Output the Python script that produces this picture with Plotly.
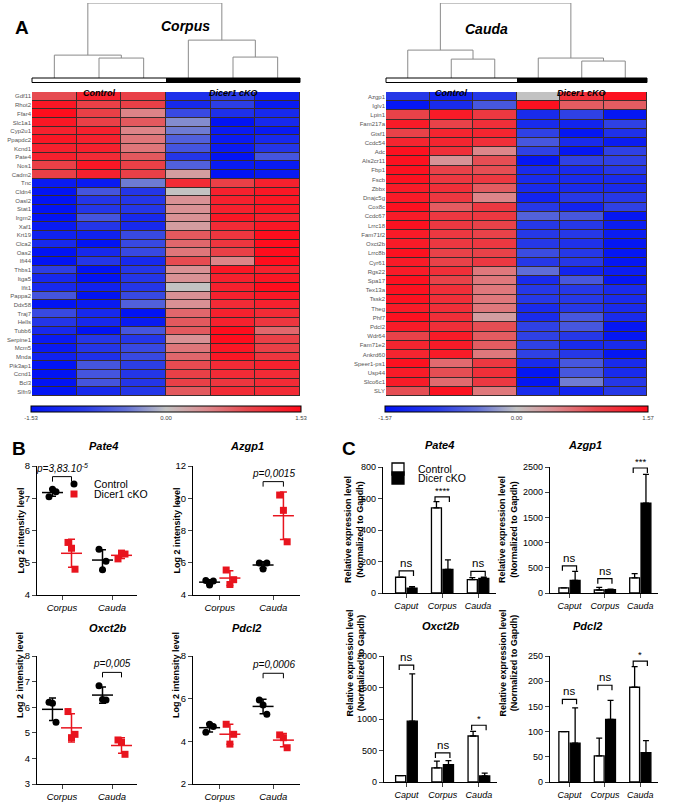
import numpy as np
import plotly.graph_objects as go

W, H = 676, 809
FONT = "Arial, Liberation Sans, sans-serif"
RED = "#e8141e"

# ---------------- Panel A data ----------------
sample_cols = [0, 1, 2, 3, 4, 5]
group_codes = [0, 0, 0, 1, 1, 1]
group_names = ["Control", "Dicer1 cKO"]

corpus_genes = ["Gdf11", "Rhot2", "Ffar4", "Slc1a1", "Cyp2u1", "Ppapdc2", "Kcnd1", "Pate4", "Nos1", "Cadm2",
                "Tnc", "Cldn4", "Oasl2", "Stat1", "Irgm2", "Xaf1", "Krt19", "Clca2", "Oas2", "Ifi44",
                "Thbs1", "Itga5", "Ifit1", "Pappa2", "Ddx58", "Traj7", "Hells", "Tubb6", "Serpine1", "Mcm5",
                "Mnda", "Pik3ap1", "Ccnd1", "Bcl3", "Slfn9"]
corpus_values = [
    [0.9, 1.3, 1.0, -1.1, -0.9, -1.3],
    [1.4, 1.0, 1.0, -1.2, -0.9, -1.4],
    [1.5, 1.0, 0.5, -0.8, -1.1, -1.2],
    [1.4, 1.0, 0.8, -0.3, -1.5, -1.2],
    [1.3, 1.3, 0.5, -0.4, -1.4, -1.4],
    [1.4, 1.3, 0.6, -0.6, -1.4, -1.2],
    [1.3, 1.3, 0.6, -0.7, -1.4, -1.0],
    [1.3, 1.2, 0.8, -1.0, -1.5, -0.7],
    [1.0, 1.4, 1.0, -0.6, -1.4, -1.4],
    [1.0, 1.3, 1.0, 0.3, -1.5, -1.4],
    [-1.4, -1.4, -0.4, 1.2, 1.0, 1.3],
    [-1.5, -0.7, -1.0, 0.0, 1.3, 1.4],
    [-1.5, -1.0, -1.0, 0.4, 1.3, 1.4],
    [-1.5, -1.0, -1.0, 0.4, 1.3, 1.4],
    [-1.5, -0.7, -1.2, 0.4, 1.4, 1.3],
    [-1.4, -1.0, -1.2, 0.3, 1.2, 1.4],
    [-1.3, -1.3, -0.8, 0.8, 1.1, 1.5],
    [-1.2, -1.5, -0.8, 0.7, 1.1, 1.5],
    [-1.5, -1.2, -0.8, 0.6, 1.0, 1.5],
    [-1.5, -1.0, -1.2, 0.9, 0.5, 1.5],
    [-0.9, -1.5, -1.0, 0.4, 1.4, 1.3],
    [-1.2, -1.5, -1.0, 0.4, 1.3, 1.4],
    [-1.2, -1.3, -1.0, 0.0, 1.3, 1.5],
    [-0.7, -1.5, -0.8, 0.4, 1.3, 1.4],
    [-1.5, -1.4, -0.6, 0.4, 1.2, 1.3],
    [-0.8, -1.2, -1.5, 0.7, 1.3, 1.2],
    [-1.0, -1.2, -1.4, 0.8, 1.3, 1.1],
    [-1.2, -1.5, -0.7, 0.8, 1.5, 0.7],
    [-1.4, -1.0, -1.0, 0.4, 1.5, 1.0],
    [-1.4, -1.0, -0.8, 0.6, 1.4, 1.0],
    [-1.3, -1.1, -0.8, 0.7, 1.4, 1.1],
    [-1.5, -0.7, -0.9, 0.9, 1.2, 1.3],
    [-1.5, -0.7, -1.0, 1.0, 1.2, 1.2],
    [-1.5, -0.7, -1.0, 1.0, 1.1, 1.2],
    [-1.5, -1.2, -1.0, 0.8, 1.2, 1.2],
]
corpus_zmax = 1.53
# merges: (left node, right node, height); leaves 0-5, new nodes numbered from 6
corpus_merges = [(1, 2, 0.266), (0, 6, 0.305), (4, 5, 0.279), (3, 8, 0.505), (7, 9, 1.0)]

cauda_genes = ["Azgp1", "Iglv1", "Lpin1", "Fam217a", "Gtsf1", "Ccdc54", "Adc", "Als2cr11", "Fbp1", "Fscb",
               "Zbbx", "Dnajc5g", "Cox8c", "Ccdc67", "Lrrc18", "Fam71f2", "Oxct2b", "Lrrc8b", "Cyr61", "Rgs22",
               "Spa17", "Tex13a", "Tssk2", "Theg", "Phf7", "Pdcl2", "Wdr64", "Fam71e2", "Ankrd60", "Speer1-ps1",
               "Usp44", "Slco6c1", "SLY"]
cauda_values = [
    [-1.0, -1.3, -1.0, 0.0, 1.2, 1.5],
    [-1.5, -1.2, -0.7, 1.5, 0.8, 0.8],
    [1.0, 1.4, 1.1, -1.2, -0.9, -1.5],
    [1.4, 1.0, 1.2, -1.2, -1.3, -0.9],
    [1.0, 1.3, 1.3, -0.9, -1.5, -1.1],
    [1.3, 1.3, 1.2, -0.7, -1.2, -1.4],
    [1.5, 1.2, 0.5, -0.9, -1.5, -0.9],
    [1.5, 0.4, 0.9, -1.5, -0.9, -0.9],
    [1.5, 1.0, 0.9, -1.2, -1.2, -1.0],
    [1.5, 1.1, 1.1, -1.2, -1.2, -1.2],
    [1.4, 1.2, 0.8, -1.2, -1.2, -1.2],
    [1.4, 1.1, 0.5, -1.3, -1.0, -1.0],
    [1.5, 0.8, 1.1, -1.0, -1.3, -0.9],
    [1.4, 1.1, 1.1, -0.6, -0.7, -1.5],
    [1.5, 1.1, 1.0, -1.0, -1.0, -1.4],
    [1.4, 1.1, 1.0, -1.0, -1.0, -1.4],
    [1.4, 1.1, 1.1, -1.0, -1.1, -1.5],
    [1.5, 1.0, 1.0, -0.8, -1.0, -1.5],
    [1.4, 1.0, 1.1, -1.0, -1.0, -1.5],
    [1.4, 1.2, 0.6, -0.5, -1.3, -1.4],
    [1.5, 1.0, 0.6, -1.2, -0.7, -1.5],
    [1.5, 1.2, 0.6, -1.0, -1.0, -1.2],
    [1.5, 1.2, 0.6, -1.0, -1.0, -1.2],
    [1.4, 1.2, 0.6, -1.2, -1.0, -1.2],
    [1.5, 1.2, 0.3, -1.2, -0.7, -1.2],
    [1.4, 1.2, 0.9, -0.9, -0.7, -1.5],
    [1.0, 1.4, 0.8, -0.9, -1.0, -1.5],
    [1.3, 1.4, 0.8, -0.9, -1.2, -1.2],
    [1.3, 1.4, 0.6, -0.9, -1.0, -1.5],
    [1.5, 0.7, 1.1, -1.2, -0.7, -1.2],
    [1.4, 0.9, 1.2, -1.5, -0.7, -1.2],
    [1.4, 0.7, 1.1, -1.5, -0.4, -1.0],
    [0.9, 1.5, 0.6, -1.2, -1.3, -1.0],
]
cauda_zmax = 1.57
cauda_merges = [(1, 2, 0.252), (0, 6, 0.372), (4, 5, 0.226), (3, 8, 0.266), (7, 9, 1.0)]

# ---------------- Panel B data (log2 intensity; [corpus values], [cauda values]) ----------------
b_regions = ["Corpus", "Cauda"]
pate4_control = [[7.05, 7.28, 7.20], [5.42, 4.78, 5.05]]
pate4_cko = [[5.63, 5.45, 4.80], [5.12, 5.30, 5.27]]
azgp1_control = [[4.90, 4.62, 4.87], [5.98, 5.62, 5.98]]
azgp1_cko = [[5.55, 4.65, 4.95], [10.2, 9.25, 7.30]]
oxct2b_control = [[6.19, 6.15, 5.41], [6.84, 6.30, 6.28]]
oxct2b_cko = [[5.83, 4.81, 4.94], [4.72, 4.63, 4.16]]
pdcl2_control = [[4.42, 4.80, 4.70], [5.94, 5.70, 5.27]]
pdcl2_cko = [[4.80, 3.87, 4.33], [4.30, 4.17, 3.70]]
b_pvalues = ["p=3,83.10<sup>-5</sup>", "p=0,0015", "p=0,005", "p=0,0006"]
b_pvalue_region = [0, 1, 1, 1]
b_bracket_y = [7.67, 11.03, 7.36, 7.19]

# ---------------- Panel C data (relative expression, mean and SD) ----------------
c_regions = ["Caput", "Corpus", "Cauda"]
c_pate4_control = [100, 540, 85]
c_pate4_control_sd = [0, 40, 12]
c_pate4_cko = [30, 150, 93]
c_pate4_cko_sd = [10, 60, 8]
c_azgp1_control = [100, 60, 300]
c_azgp1_control_sd = [0, 50, 85]
c_azgp1_cko = [250, 65, 1785]
c_azgp1_cko_sd = [180, 12, 570]
c_oxct2b_control = [100, 225, 730]
c_oxct2b_control_sd = [0, 105, 75]
c_oxct2b_cko = [965, 275, 95]
c_oxct2b_cko_sd = [750, 65, 45]
c_pdcl2_control = [100, 52, 188]
c_pdcl2_control_sd = [0, 35, 41]
c_pdcl2_cko = [77, 124, 58]
c_pdcl2_cko_sd = [70, 38, 24]
c_pate4_sig = ["ns", "****", "ns"]
c_pate4_sig_y = [140, 610, 137]
c_azgp1_sig = ["ns", "ns", "***"]
c_azgp1_sig_y = [540, 285, 2480]
c_oxct2b_sig = ["ns", "ns", "*"]
c_oxct2b_sig_y = [1856, 461, 901]
c_pdcl2_sig = ["ns", "ns", "*"]
c_pdcl2_sig_y = [164, 192, 240]


# ---------------- helpers ----------------
def dx(a, b):
    return [a / W, b / W]


def dy(top, bottom):
    return [1 - bottom / H, 1 - top / H]


def py(v):
    return 1 - v / H


def an(i):
    return "" if i == 1 else str(i)


fig = go.Figure()
layout = {}
annotations = []
shapes = []

heat_cs = [[0.0, "#0012f5"], [0.2, "#2a3ce6"], [0.35, "#6270d6"], [0.5, "#c2c2c2"],
           [0.65, "#dc8a8e"], [0.8, "#e6484e"], [1.0, "#ff0a1a"]]


def dendro_xy(merges):
    pos = {i: float(i) for i in range(6)}
    hgt = {i: 0.0 for i in range(6)}
    xs, ys = [], []
    for k, (a, b, h) in enumerate(merges):
        node = 6 + k
        xs += [pos[a], pos[a], pos[b], pos[b], None]
        ys += [hgt[a], h, h, hgt[b], None]
        pos[node] = (pos[a] + pos[b]) / 2
        hgt[node] = h
    return xs, ys


def set_axes(i, xdict, ydict):
    xdict = dict(xdict)
    ydict = dict(ydict)
    xdict["anchor"] = "y" + an(i)
    ydict["anchor"] = "x" + an(i)
    layout["xaxis" + an(i)] = xdict
    layout["yaxis" + an(i)] = ydict


def heat_block(i0, x0, x1, genes, values, zmax, merges, title, title_y):
    idd, igb, ihm = i0, i0 + 1, i0 + 2
    xs, ys = dendro_xy(merges)
    fig.add_trace(go.Scatter(x=xs, y=ys, mode="lines", line=dict(color="#8a8a8a", width=1),
                             xaxis="x" + an(idd), yaxis="y" + an(idd), showlegend=False,
                             cliponaxis=False, hoverinfo="skip"))
    fig.add_trace(go.Heatmap(z=[group_codes], x=sample_cols, y=[0], zmin=0, zmax=1,
                             colorscale=[[0, "white"], [1, "black"]], showscale=False,
                             xaxis="x" + an(igb), yaxis="y" + an(igb), hoverinfo="skip"))
    fig.add_trace(go.Heatmap(z=values, x=sample_cols, y=genes, zmin=-zmax, zmax=zmax,
                             colorscale=heat_cs, xgap=1, ygap=1,
                             xaxis="x" + an(ihm), yaxis="y" + an(ihm),
                             colorbar=dict(orientation="h", x=(x0 + x1) / 2 / W, xanchor="center",
                                           y=py(406), yanchor="top", len=(x1 - x0 + 2) / W,
                                           lenmode="fraction", thickness=6, outlinewidth=1,
                                           outlinecolor="black", tickvals=[-zmax, 0, zmax],
                                           ticktext=[f"-{zmax:.2f}", "0.00", f"{zmax:.2f}"],
                                           ticks="", tickfont=dict(size=6, color="#444", family=FONT),
                                           xpad=0, ypad=0)))
    common_x = dict(domain=dx(x0, x1), range=[-0.5, 5.5], showticklabels=False, showgrid=False,
                    zeroline=False, ticks="", showline=False, automargin=False, fixedrange=True)
    set_axes(idd, common_x, dict(domain=dy(3, 78), range=[0, 1], visible=False, automargin=False))
    set_axes(igb, common_x, dict(domain=dy(78, 82.5), range=[-0.5, 0.5], visible=False, automargin=False))
    set_axes(ihm, common_x, dict(domain=dy(92, 396), type="category", autorange="reversed",
                                 tickmode="array", tickvals=genes, ticktext=genes, ticks="",
                                 tickfont=dict(size=6, color="#555", family=FONT),
                                 showgrid=False, zeroline=False, showline=False, automargin=False))
    shapes.append(dict(type="rect", xref="x" + an(igb) + " domain", yref="y" + an(igb) + " domain",
                       x0=0, x1=1, y0=0, y1=1, line=dict(color="black", width=1), layer="above"))
    shapes.append(dict(type="rect", xref="x" + an(ihm) + " domain", yref="y" + an(ihm) + " domain",
                       x0=0, x1=1, y0=0, y1=1, fillcolor="#3a2c2c", line=dict(width=0), layer="below"))
    for g, name in enumerate(group_names):
        annotations.append(dict(x=1 + 3 * g, xref="x" + an(ihm), y=py(86), yref="paper",
                                text=f"<b><i>{name}</i></b>", showarrow=False,
                                font=dict(size=9, family=FONT, color="black")))
    annotations.append(dict(x=(x0 + x1) / 2 / W - 0.01, xref="paper", y=py(title_y), yref="paper",
                            text=f"<b><i>{title}</i></b>", showarrow=False,
                            font=dict(size=14, family=FONT, color="black")))


heat_block(1, 32, 300, corpus_genes, corpus_values, corpus_zmax, corpus_merges, "Corpus", 16)
heat_block(4, 386, 647, cauda_genes, cauda_values, cauda_zmax, cauda_merges, "Cauda", 19)

# ---------------- Panel B ----------------
jitter = [-0.07, 0.0, 0.07]
b_sets = [("Pate4", pate4_control, pate4_cko, [4, 8], 1, (37, 137), (466, 595)),
          ("Azgp1", azgp1_control, azgp1_cko, [4, 12], 2, (193, 300), (466, 595)),
          ("Oxct2b", oxct2b_control, oxct2b_cko, [3, 8], 1, (37, 137), (656, 784)),
          ("Pdcl2", pdcl2_control, pdcl2_cko, [2, 8], 2, (193, 300), (656, 784))]
b_legends = ["legend", "legend3"]

for k, (gene, ctrl, cko, yr, dt, (xa, xb), (ya, yb)) in enumerate(b_sets):
    idx = 7 + k
    xr, yrn = f"x{idx}", f"y{idx}"
    for gi, (vals, color, sym, name, off) in enumerate([(ctrl, "black", "circle", "Control", -0.19),
                                                        (cko, RED, "square", "Dicer1 cKO", 0.19)]):
        xs, ys = [], []
        for ci, group in enumerate(vals):
            for j, v in enumerate(group):
                xs.append(ci + off + jitter[j])
                ys.append(v)
        fig.add_trace(go.Scatter(x=xs, y=ys, mode="markers", name=name, legend=b_legends[gi],
                                 showlegend=(k == 0),
                                 marker=dict(symbol=sym, size=7, color=color),
                                 xaxis=xr, yaxis=yrn, cliponaxis=False))
        means = [float(np.mean(g)) for g in vals]
        sds = [float(np.std(g, ddof=1)) for g in vals]
        fig.add_trace(go.Scatter(x=[off, 1 + off], y=means, mode="markers", showlegend=False,
                                 marker=dict(symbol="line-ew", size=15, color=color,
                                             line=dict(width=1.5, color=color)),
                                 error_y=dict(type="data", array=sds, width=3.5, thickness=1.5, color=color),
                                 xaxis=xr, yaxis=yrn, cliponaxis=False))
    c = b_pvalue_region[k]
    top = b_bracket_y[k]
    tick = (yr[1] - yr[0]) / (yb - ya) * 5
    fig.add_trace(go.Scatter(x=[c - 0.19, c - 0.19, c + 0.19, c + 0.19],
                             y=[top - tick, top, top, top - tick], mode="lines",
                             line=dict(color="black", width=1), showlegend=False,
                             xaxis=xr, yaxis=yrn, cliponaxis=False, hoverinfo="skip"))
    annotations.append(dict(x=c, xref=xr, y=top, yref=yrn, yanchor="bottom", yshift=1,
                            text=f"<i>{b_pvalues[k]}</i>", showarrow=False,
                            font=dict(size=10, family=FONT, color="black")))
    set_axes(idx,
             dict(domain=dx(xa, xb), range=[-0.5, 1.5], tickmode="array",
                  tickvals=[0, 1], ticktext=[f"<i>{r}</i>" for r in b_regions],
                  ticks="outside", ticklen=4, showline=True, linecolor="black",
                  linewidth=1, showgrid=False, zeroline=False, automargin=False,
                  tickfont=dict(size=9.5, family=FONT, color="black")),
             dict(domain=dy(ya, yb), range=yr, dtick=dt, ticks="outside", ticklen=4,
                  showline=True, linecolor="black", linewidth=1, showgrid=False,
                  zeroline=False, automargin=False,
                  tickfont=dict(size=9.5, family=FONT, color="black")))
    annotations.append(dict(x=(xa + xb) / 2 / W, xref="paper", y=py(ya - 20), yref="paper",
                            text=f"<b><i>{gene}</i></b>", showarrow=False,
                            font=dict(size=11, family=FONT, color="black")))
    annotations.append(dict(x=(xa - 24) / W, xref="paper", y=py((ya + yb) / 2), yref="paper",
                            text="<b>Log 2 intensity level</b>", textangle=-90, showarrow=False,
                            font=dict(size=9, family=FONT, color="black")))

# ---------------- Panel C ----------------
c_sets = [("Pate4", c_pate4_control, c_pate4_control_sd, c_pate4_cko, c_pate4_cko_sd, c_pate4_sig,
           c_pate4_sig_y, [0, 800], 200, (383, 496), (467, 593), -0.65),
          ("Azgp1", c_azgp1_control, c_azgp1_control_sd, c_azgp1_cko, c_azgp1_cko_sd, c_azgp1_sig,
           c_azgp1_sig_y, [0, 2500], 500, (550, 658), (467, 593), -0.55),
          ("Oxct2b", c_oxct2b_control, c_oxct2b_control_sd, c_oxct2b_cko, c_oxct2b_cko_sd, c_oxct2b_sig,
           c_oxct2b_sig_y, [0, 2000], 500, (384, 497), (656, 782), -0.62),
          ("Pdcl2", c_pdcl2_control, c_pdcl2_control_sd, c_pdcl2_cko, c_pdcl2_cko_sd, c_pdcl2_sig,
           c_pdcl2_sig_y, [0, 250], 50, (550, 658), (656, 782), -0.55)]

for k, (gene, cm, cs_, km, ks, sig, sig_y, yr, dt, (xa, xb), (ya, yb), x_lo) in enumerate(c_sets):
    idx = 11 + k
    xr, yrn = f"x{idx}", f"y{idx}"
    fig.add_trace(go.Bar(x=[0, 1, 2], y=cm, name="Control", legend="legend2", showlegend=(k == 0),
                         marker=dict(color="white", line=dict(color="black", width=1.3)),
                         error_y=dict(type="data", symmetric=False, array=cs_, arrayminus=[0, 0, 0],
                                      width=3, thickness=1.3, color="black"),
                         offsetgroup="ctrl", xaxis=xr, yaxis=yrn))
    fig.add_trace(go.Bar(x=[0, 1, 2], y=km, name="Dicer cKO", legend="legend4", showlegend=(k == 0),
                         marker=dict(color="black", line=dict(color="black", width=1.3)),
                         error_y=dict(type="data", symmetric=False, array=ks, arrayminus=[0, 0, 0],
                                      width=3, thickness=1.3, color="black"),
                         offsetgroup="cko", xaxis=xr, yaxis=yrn))
    tick = (yr[1] - yr[0]) / (yb - ya) * 5
    bx, by = [], []
    for ci, (s, yv) in enumerate(zip(sig, sig_y)):
        bx += [ci - 0.2, ci - 0.2, ci + 0.2, ci + 0.2, None]
        by += [yv - tick, yv, yv, yv - tick, None]
        annotations.append(dict(x=ci, xref=xr, y=yv, yref=yrn, yanchor="bottom", yshift=(0 if s == "ns" else -1),
                                text=s, showarrow=False,
                                font=dict(size=(11.5 if s == "ns" else 9.5), family=FONT, color="black")))
    fig.add_trace(go.Scatter(x=bx, y=by, mode="lines", line=dict(color="black", width=1.2),
                             showlegend=False, xaxis=xr, yaxis=yrn, cliponaxis=False, hoverinfo="skip"))
    set_axes(idx,
             dict(domain=dx(xa, xb), range=[x_lo, 2.5], tickmode="array",
                  tickvals=[0, 1, 2], ticktext=[f"<i>{r}</i>" for r in c_regions],
                  ticks="outside", ticklen=4, showline=True, linecolor="black",
                  linewidth=1.2, showgrid=False, zeroline=False, automargin=False,
                  tickfont=dict(size=9, family=FONT, color="black")),
             dict(domain=dy(ya, yb), range=yr, dtick=dt, ticks="outside", ticklen=4,
                  showline=True, linecolor="black", linewidth=1.2, showgrid=False,
                  zeroline=False, automargin=False,
                  tickfont=dict(size=9, family=FONT, color="black")))
    annotations.append(dict(x=(xa + xb) / 2 / W, xref="paper", y=py(ya - 22), yref="paper",
                            text=f"<b><i>{gene}</i></b>", showarrow=False,
                            font=dict(size=11, family=FONT, color="black")))
    annotations.append(dict(x=(xa - 29) / W, xref="paper", y=py((ya + yb) / 2), yref="paper",
                            text="<b>Relative expression level<br>(Normalized to Gapdh)</b>",
                            textangle=-90, showarrow=False,
                            font=dict(size=9, family=FONT, color="black")))

for letter, lx, ly in [("A", 13, 15), ("B", 10, 448), ("C", 349, 448)]:
    annotations.append(dict(x=lx / W, xref="paper", y=py(ly), yref="paper", text=f"<b>{letter}</b>",
                            showarrow=False, font=dict(size=19, family=FONT, color="black")))


def leg(xpx, ypx, size):
    return dict(x=xpx / W, y=py(ypx), xanchor="left", yanchor="middle", bgcolor="rgba(0,0,0,0)",
                font=dict(size=size, family=FONT, color="black"), tracegroupgap=0,
                borderwidth=0)


fig.update_layout(
    width=W, height=H, margin=dict(l=0, r=0, t=0, b=0),
    template="none", paper_bgcolor="white", plot_bgcolor="rgba(0,0,0,0)",
    font=dict(family=FONT, color="black"),
    barmode="group", bargap=0.36, bargroupgap=0.13,
    legend=leg(54, 484, 10.5),
    legend3=leg(54, 494, 10.5),
    legend2=leg(378, 469, 10.5),
    legend4=leg(378, 478, 10.5),
    annotations=annotations, shapes=shapes, showlegend=True,
    **layout,
)

fig.write_html("out.html", config={"displayModeBar": False},
               post_script="document.body.style.margin='0';document.body.style.padding='0';"
                           "document.documentElement.style.overflow='hidden';")
